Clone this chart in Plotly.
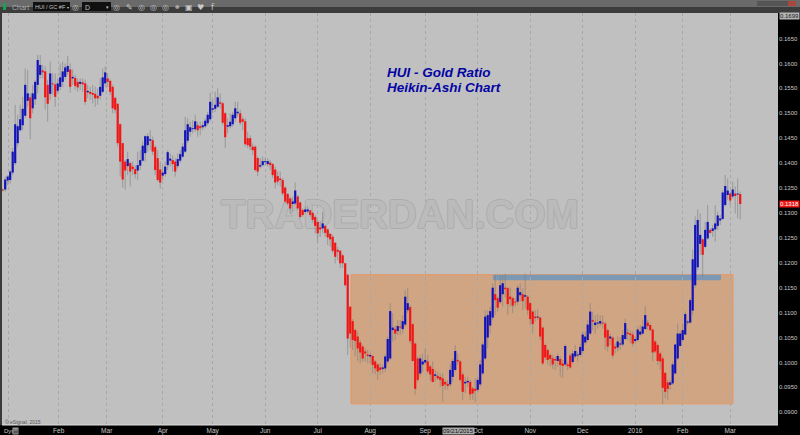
import plotly.graph_objects as go

# Ratio values x 10000
tops = [1347,1367,1373,1383,1423,1478,1474,1488,1509,1557,1540,1532,1540,1563,1607,1597,1586,1584,1557,1580,
1560,1558,1560,1572,1584,1592,1595,1588,1573,1571,1563,1563,1562,1560,1545,1543,1541,1539,1535,1553,
1572,1582,1570,1565,1553,1531,1519,1478,1440,1403,1408,1400,1393,1388,1396,1406,1435,1454,1454,1448,
1446,1432,1410,1387,1381,1393,1422,1409,1406,1403,1408,1418,1433,1466,1478,1472,1470,1484,1476,1474,
1476,1485,1497,1523,1510,1517,1532,1522,1520,1500,1476,1483,1497,1510,1503,1500,1488,1484,1450,1450,
1433,1433,1410,1396,1404,1404,1404,1401,
1398,1387,1374,1369,1366,1351,1338,1329,1323,1345,1333,1321,1306,1307,1307,1305,1300,1292,1282,1271,
1279,1274,1267,1258,1252,1240,1226,1224,1215,1199,
1176,1112,1083,1065,1052,1040,1032,1022,1016,1015,1013,1002,996,990,990,1012,1047,1103,1070,1067,
1073,1072,1083,1132,1119,1111,1077,1038,1008,1008,1002,1005,1002,992,987,976,973,971,968,961,
957,985,1003,1023,1005,1002,976,961,963,961,948,947,965,996,1036,1092,1095,1103,1150,1137,
1129,1155,1159,1150,1149,1132,1129,1122,1150,1141,1137,1135,1132,1119,1102,1092,1092,1090,1070,1035,
1025,1015,1008,1007,1013,
1007,998,1033,996,1014,1018,1023,1016,1031,1056,1052,1076,1102,1085,1080,1080,1083,1080,1078,1065,
1052,1050,1032,1042,1038,1055,1079,1060,1058,1056,1047,1066,1062,1072,1095,1080,1075,1066,1042,1035,
1018,1008,979,960,960,996,1036,1058,1058,1065,1097,1082,1125,
1207,1276,1286,1256,1247,1266,1282,1266,1269,1279,1295,1289,1341,1354,1345,1339,1347,1339,1339,1338]

bottoms = [1345,1347,1365,1366,1381,1400,1440,1466,1476,1495,1525,1490,1510,1528,1557,1577,1582,1532,1519,1539,
1558,1533,1545,1553,1563,1573,1583,1553,1570,1555,1552,1559,1558,1523,1542,1539,1537,1530,1530,1535,
1543,1560,1563,1543,1510,1507,1440,1403,1367,1385,1394,1383,1388,1378,1385,1395,1405,1420,1436,1445,
1423,1386,1366,1361,1375,1378,1396,1405,1398,1383,1394,1405,1413,1423,1445,1463,1468,1468,1466,1470,
1472,1474,1480,1488,1507,1509,1513,1519,1481,1452,1473,1474,1478,1490,1500,1481,1483,1438,1436,1433,
1426,1386,1383,1393,1396,1402,1398,1396,
1376,1361,1363,1366,1339,1323,1319,1309,1318,1319,1309,1292,1296,1302,1303,1296,1286,1274,1259,1267,
1269,1260,1251,1247,1224,1212,1222,1199,1199,1155,
1048,1058,1045,1043,1028,1020,1008,1018,1013,1012,995,988,982,985,987,988,1002,1008,1065,1058,
1063,1070,1067,1076,1105,1043,1003,947,965,978,996,1000,982,976,961,973,968,965,953,956,
953,956,971,985,1002,965,941,958,960,936,938,943,945,956,978,1008,1050,1074,1090,1125,
1110,1121,1137,1147,1117,1127,1114,1120,1122,1135,1123,1132,1105,1087,1077,1089,1090,1052,998,1010,
1005,1007,996,1004,1003,
995,993,996,993,990,1001,1012,1014,1015,1023,1040,1045,1058,1082,1075,1078,1078,1078,1050,1032,
1048,1014,1028,1030,1036,1036,1047,1057,1055,1038,1043,1045,1056,1058,1067,1073,1065,1020,1022,1003,
1002,949,941,947,955,958,978,1008,1033,1045,1056,1080,1080,
1104,1155,1191,1238,1216,1232,1249,1260,1264,1267,1274,1285,1288,1316,1336,1325,1333,1334,1337,1318]

highs = [1349,1373,1376,1386,1430,1517,1497,1517,1533,1590,1587,1540,1557,1567,1617,1617,1597,1594,1567,1604,
1580,1580,1570,1600,1604,1600,1615,1600,1588,1577,1570,1570,1570,1567,1557,1553,1557,1553,1550,1570,
1590,1594,1580,1568,1557,1533,1520,1480,1441,1406,1423,1403,1403,1396,1423,1426,1443,1456,1460,1466,
1453,1436,1426,1403,1396,1403,1426,1420,1416,1410,1420,1426,1440,1493,1490,1483,1486,1497,1483,1483,
1483,1490,1503,1541,1527,1543,1550,1540,1523,1503,1490,1500,1503,1523,1523,1507,1493,1490,1463,1456,
1440,1436,1413,1410,1413,1410,1410,1406,
1400,1393,1383,1383,1370,1353,1340,1333,1333,1361,1336,1323,1309,1313,1313,1307,1302,1296,1286,1282,
1302,1276,1269,1260,1256,1242,1232,1226,1218,1200,
1178,1112,1087,1068,1062,1045,1035,1028,1025,1020,1015,1005,998,998,996,1016,1052,1119,1099,1075,
1085,1085,1095,1145,1149,1115,1079,1040,1012,1015,1018,1028,1015,995,1002,985,981,978,978,965,
965,996,1008,1035,1018,1005,981,971,971,965,951,968,971,1005,1042,1105,1105,1112,1159,1175,
1132,1175,1175,1178,1152,1150,1132,1129,1155,1159,1149,1178,1135,1121,1105,1105,1107,1092,1072,1038,
1028,1018,1015,1012,1018,
1012,1005,1036,1000,1018,1025,1035,1022,1038,1062,1062,1085,1119,1102,1095,1097,1095,1095,1082,1068,
1058,1052,1038,1052,1050,1065,1088,1068,1065,1062,1052,1072,1075,1085,1113,1085,1078,1068,1045,1038,
1022,1012,981,965,965,1002,1038,1078,1062,1078,1102,1085,1129,
1227,1293,1307,1299,1249,1282,1316,1269,1276,1316,1303,1296,1346,1376,1369,1343,1363,1353,1369,1343]

lows = [1343,1343,1356,1359,1376,1396,1433,1463,1466,1490,1513,1448,1500,1517,1540,1570,1570,1507,1483,1527,
1537,1513,1540,1547,1553,1567,1577,1541,1557,1547,1543,1547,1543,1517,1530,1527,1520,1513,1517,1527,
1540,1553,1553,1537,1500,1500,1433,1373,1351,1347,1376,1353,1376,1369,1366,1386,1403,1403,1423,1426,
1416,1376,1363,1349,1366,1373,1386,1393,1383,1373,1389,1400,1410,1420,1440,1453,1460,1463,1453,1456,
1466,1470,1476,1483,1500,1503,1510,1510,1476,1430,1460,1470,1473,1483,1493,1476,1466,1433,1430,1426,
1416,1383,1374,1389,1393,1396,1393,1386,
1370,1349,1356,1353,1335,1319,1315,1298,1302,1316,1306,1289,1292,1299,1299,1292,1282,1259,1242,1252,
1259,1252,1236,1232,1219,1199,1205,1189,1190,1152,
1015,1030,1025,1012,1002,998,1002,1002,998,998,978,976,965,975,978,981,998,1005,1042,1045,
1055,1055,1058,1072,1099,1038,1002,935,961,971,981,995,978,963,960,961,965,951,921,945,
945,951,961,981,995,961,925,938,951,925,925,920,941,951,975,1005,1028,1058,1085,1095,
1102,1117,1112,1130,1095,1112,1099,1112,1115,1122,1105,1109,1095,1075,1058,1082,1085,1045,995,1005,
995,992,987,985,992,
971,969,992,985,987,998,1008,1002,1012,1018,1035,1042,1055,1065,1058,1068,1072,1068,1025,1022,
1035,1008,1018,1022,1025,1032,1045,1045,1038,1032,1038,1042,1052,1055,1065,1065,1062,1002,1018,995,
985,916,928,925,945,955,975,1005,1032,1042,1055,1075,1078,
1095,1150,1186,1216,1172,1229,1246,1259,1252,1242,1266,1276,1286,1313,1326,1316,1329,1299,1289,1287]

directions = ("RBBBBBBBBB" "BRBBBBRRRB" "RRBBBBBRBR" "RBRRBRRRRB" "BBRRRRRRRR"
              "BRRRBBBBBB" "RRRRBBBBRR" "BBBBBBBBRR" "BBBBBBBRRR" "BBBBBRRRRR" "RRRBBBBR"
              "RRRRRRRRBB" "RRRBBRRRRR" "BRRRRRRRRR"
              "RRRRRRRRRB" "RRRRBBBBBR" "BRBBBRRRRB" "BBRRRBRRRR" "RBBBRRRBBR"
              "RRBBBBBBBR" "RBBRRRRRBB" "RBRRRRBRRR" "RRRRB"
              "RRBRRBBBBB" "BBBRBBBRRR" "BRRBBBBRRR" "BBBBBRRRRR" "RRRRBBBBBB" "BBB"
              "BBBBRBBRBB" "BBBBBRBRBR")

tick_index = [2.5, 22.4, 41.6, 64, 84, 105, 126, 147, 169, 190, 211, 232, 253, 272, 291]
tick_text = ["", "Feb", "Mar", "Apr", "May", "Jun", "Jul", "Aug", "Sep", "Oct", "Nov", "Dec", "2016", "Feb", "Mar"]
price_ticks = [0.09 + 0.005 * k for k in range(16)]

title_lines = ["HUI - Gold Ratio", "Heikin-Ashi Chart"]
watermark = "TRADERDAN.COM"
last_price = 0.1318

n = min(len(tops), len(bottoms), len(highs), len(lows), len(directions))
SPACING = 2.5
X0 = 2.7
W, H, L, R, T, B = 800, 435, 2, 22, 13, 10


def px_x(p):
    return (p - L) / (W - L - R)


def px_y(p):
    return 1 - (p - T) / (H - T - B)


def segments(idx, a, b):
    xs, ys = [], []
    for i in idx:
        xs += [i, i, None]
        ys += [a[i] / 1e4, b[i] / 1e4, None]
    return xs, ys


fig = go.Figure()
fig.add_trace(go.Scatter(x=[(400 - X0) / SPACING], y=[0.1290], mode="text", text=[watermark],
                         textposition="middle center", hoverinfo="skip", showlegend=False,
                         textfont=dict(family="Liberation Sans", size=40, weight="bold", color="#bbbbbb",
                                       shadow="1px 0 #acacac,-1px 0 #acacac,0 1px #acacac,0 -1px #acacac")))
wx, wy = segments(range(n), highs, lows)
fig.add_trace(go.Scatter(x=wx, y=wy, mode="lines", line=dict(color="rgba(125,125,125,0.6)", width=1),
                         hoverinfo="skip", showlegend=False))
for code, colour in (("B", "#1212b8"), ("R", "#f01616")):
    bx, by = segments([i for i in range(n) if directions[i] == code], tops, bottoms)
    fig.add_trace(go.Scatter(x=bx, y=by, mode="lines", line=dict(color=colour, width=2.2),
                             hoverinfo="skip", showlegend=False))

shapes = [
    dict(type="rect", layer="below", xref="x", yref="y", x0=(351 - X0) / SPACING, x1=(733 - X0) / SPACING,
         y0=0.0917, y1=0.1176, fillcolor="rgba(226,134,62,0.47)", line=dict(color="#e8965f", width=1)),
    dict(type="rect", layer="below", xref="x", yref="y", x0=(493 - X0) / SPACING, x1=(721 - X0) / SPACING,
         y0=0.1165, y1=0.1176, fillcolor="#7b99b4", line=dict(width=0)),
]


def rect(x0, y0, x1, y1, fill):
    shapes.append(dict(type="rect", layer="above", xref="paper", yref="paper", x0=px_x(x0), x1=px_x(x1),
                       y0=px_y(y1), y1=px_y(y0), fillcolor=fill, line=dict(width=0)))


rect(0, 0, 800, 7, "#6a6a6a")
rect(0, 7, 800, 13, "#3c3c3c")
rect(0, 13, 2, 425, "#3a3a3a")
rect(2, 424.5, 778, 425.5, "#e0e0e0")
rect(3, 3, 6, 10, "#18a050")
rect(33, 2, 70, 11, "#101010")
rect(82, 2, 111, 11, "#101010")
rect(757, 1, 764, 6, "#555555")
rect(764, 1, 772, 6, "#555555")
rect(772, 1, 780, 6, "#555555")
rect(780, 1, 788, 6, "#555555")
rect(788, 1, 796, 6, "#a8483c")

annotations = []


def label(x, y, text, size=7, colour="#c8c8c8", anchor="left", bg=None, font="Liberation Sans", bold=False, italic=False):
    if bold:
        text = "<b>" + text + "</b>"
    if italic:
        text = "<i>" + text + "</i>"
    annotations.append(dict(xref="paper", yref="paper", x=px_x(x), y=px_y(y), text=text, showarrow=False,
                            xanchor=anchor, yanchor="middle", bgcolor=bg, borderpad=0,
                            font=dict(family=font, size=size, color=colour)))


label(11, 7, "Chart", 7, "#b0b0b0")
label(34, 7, "HUI / GC #F", 5.5, "#c0c0c0")
label(84, 7, "D", 7, "#c0c0c0")
label(67.5, 7, "▾", 4, "#c0c0c0", "center")
label(108, 7, "▾", 5, "#c0c0c0", "center")
for xpos, glyph in ((75.5, "◎"), (116, "◎"), (129, "✎"), (141, "◎"), (153, "◎"), (165, "◎"), (177, "⚭"), (189, "▣"),
                    (201, "♥"), (213, "f")):
    label(xpos, 7, glyph, 8, "#c8c8c8", "center", font="DejaVu Sans")
for line, ypos in zip(title_lines, (72, 87)):
    label(386, ypos, line, 13.5, "#0404a4", bold=True, italic=True)
label(4, 421.5, "© eSignal, 2015", 5, "#555555")
label(2.5, 430.5, "Dys", 6, "#c8c8c8")
label(16, 430.5, "▤", 5.5, "#202020", "center", bg="#9a9a9a", font="DejaVu Sans")
label(458, 430.5, "09/21/2015", 6, "#101010", "center", bg="#a8a8a8")
label(779, 16, "0.1699", 6, "#202020", bg="#b4b4b4")
label(779, 204, f"{last_price:.4f}", 6, "#ffffff", bg="#f01818")

fig.update_layout(
    width=W, height=H, margin=dict(l=L, r=R, t=T, b=B), autosize=False,
    paper_bgcolor="#000000", plot_bgcolor="#c0c0c0", showlegend=False,
    shapes=shapes, annotations=annotations,
    xaxis=dict(range=[(L - X0) / SPACING, (W - R - X0) / SPACING], tickmode="array", tickvals=tick_index,
               ticktext=tick_text, showgrid=True, gridcolor="#a8a8a8", griddash="dot", gridwidth=1,
               automargin=False, zeroline=False, showline=False, ticks="",
               tickfont=dict(family="Liberation Sans", size=6.5, color="#c8c8c8")),
    yaxis=dict(range=[0.08745, 0.17012], side="right", tickmode="array", tickvals=price_ticks,
               ticktext=[f"{v:.4f}" for v in price_ticks], showgrid=False, zeroline=False, showline=False,
               automargin=False, ticks="",
               tickfont=dict(family="Liberation Sans", size=6, color="#c8c8c8")),
)
fig.write_html("out.html", config={"displayModeBar": False},
               post_script="document.body.style.margin='0';document.body.style.background='#000';document.body.style.overflow='hidden';")
